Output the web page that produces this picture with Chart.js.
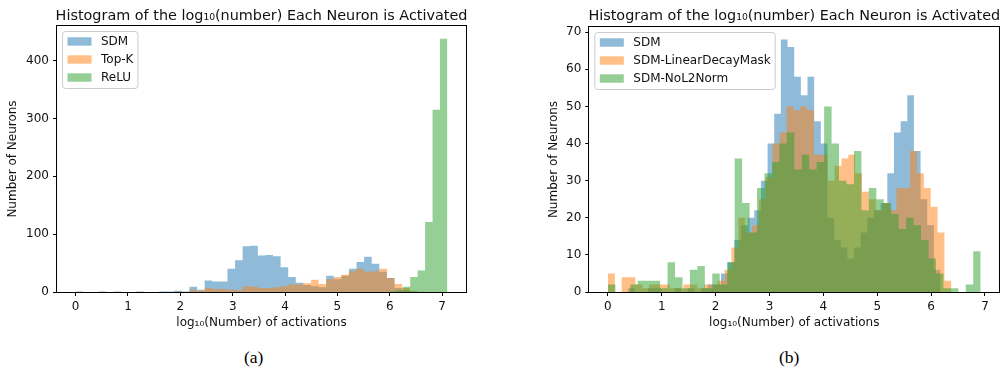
<!DOCTYPE html>
<html>
<head>
<meta charset="utf-8">
<script src="https://cdn.jsdelivr.net/npm/chart.js@4.4.1/dist/chart.umd.min.js"></script>
<style>
  body { margin: 0; background: #fff; width: 1006px; height: 374px; position: relative; overflow: hidden; }
  canvas { position: absolute; top: 0; }
  .cap { position: absolute; top: 347px; line-height: 20px; font-family: "Liberation Serif", serif; font-size: 17.5px; color: #000; }
</style>
</head>
<body>
<canvas id="histA" width="490" height="334" style="left:0"></canvas>
<canvas id="histB" width="476" height="334" style="left:530px"></canvas>
<div class="cap" style="left:244px">(a)</div>
<div class="cap" style="left:779px">(b)</div>
<script>
const xTicks = [0, 1, 2, 3, 4, 5, 6, 7];
const yTicksA = [0, 100, 200, 300, 400];
const yTicksB = [0, 10, 20, 30, 40, 50, 60, 70];

const labelsA = ['SDM', 'Top-K', 'ReLU'];
const labelsB = ['SDM', 'SDM-LinearDecayMask', 'SDM-NoL2Norm'];

// every histogram starts its bins at log10 = 0; width in log10 units
const binWidthA = [0.145, 0.145, 0.142];
const binWidthB = [0.1235, 0.1275, 0.1384];

// neuron counts per bin
const sdmA = [1, 0, 0, 1, 0, 1, 0, 0, 1, 0,
              0, 1, 1, 2, 1, 9, 4, 20, 18, 18,
              40, 55, 79, 80, 63, 64, 62, 43, 26, 16,
              12, 10, 8, 28, 22, 28, 40, 52, 61, 49,
              35, 24, 7, 3, 1];
const topkA = [0, 0, 0, 0, 0, 0, 0, 0, 0, 0,
               0, 0, 0, 1, 0, 4, 2, 7, 5, 5,
               4, 3, 10, 9, 7, 7, 8, 10, 13, 13,
               15, 21, 14, 22, 26, 30, 36, 40, 35, 36,
               40, 24, 14, 7, 2, 1];
const reluA = [0, 0, 0, 0, 0, 0, 0, 0, 0, 0,
               0, 0, 0, 0, 0, 0, 0, 0, 0, 0,
               0, 0, 0, 0, 0, 0, 0, 0, 0, 0,
               0, 0, 0, 0, 0, 0, 0, 0, 0, 0,
               0, 0, 1, 3, 9, 26, 37, 121, 315, 438];

const sdmB = [0, 0, 0, 1, 0, 0, 1, 1, 0, 0,
              1, 0, 1, 0, 1, 2, 2, 5, 8, 14,
              18, 20, 22, 30, 40, 48, 68, 66, 58, 53,
              58, 46, 40, 20, 14, 12, 9, 12, 16, 20,
              22, 24, 32, 43, 46, 53, 38, 25, 18, 6];
const decayB = [5, 0, 4, 4, 2, 1, 2, 2, 2, 1,
                1, 2, 2, 1, 2, 2, 3, 6, 12, 20,
                16, 18, 25, 31, 40, 43, 50, 49, 50, 49,
                37, 37, 30, 34, 36, 37, 32, 27, 25, 22,
                24, 22, 28, 28, 38, 32, 28, 23, 16, 3];
const nol2B = [2, 0, 0, 2, 3, 3, 3, 1, 8, 4,
               1, 6, 7, 1, 5, 2, 8, 36, 24, 16,
               28, 32, 35, 40, 43, 33, 37, 33, 35, 50,
               40, 30, 29, 38, 22, 28, 25, 24, 21, 17,
               20, 18, 14, 9, 5, 1, 1, 0, 2, 11];

const colors = ['rgba(31,119,180,0.5)', 'rgba(255,127,14,0.5)', 'rgba(44,160,44,0.5)'];
const font = { family: 'DejaVu Sans', size: 12 };
const ink = '#111';

// bin edges -> points of a step outline (value holds until the next edge)
function steps(counts, width) {
  const pts = counts.map((c, i) => ({ x: i * width, y: c }));
  pts.push({ x: counts.length * width, y: 0 });
  return pts;
}

// axes box, in-axes legend and title
const histFrame = {
  id: 'histFrame',
  afterDatasetsDraw(chart, args, opts) {
    const { ctx, chartArea: a } = chart;
    ctx.save();

    // legend, upper left
    ctx.font = `${font.size}px ${font.family}`;
    const sets = chart.data.datasets;
    const textW = Math.max(...sets.map(d => ctx.measureText(d.label).width));
    const bx = a.left + 5.5, by = a.top + 5.5;
    const bw = 43 + textW, bh = 57;
    ctx.beginPath();
    ctx.roundRect(bx, by, bw, bh, 3);
    ctx.fillStyle = 'rgba(255,255,255,0.8)';
    ctx.fill();
    ctx.strokeStyle = '#cccccc';
    ctx.lineWidth = 1;
    ctx.stroke();
    sets.forEach((d, i) => {
      const cy = by + 10 + i * 18;
      ctx.fillStyle = d.backgroundColor;
      ctx.fillRect(bx + 5, cy - 4.2, 24, 8.4);
      ctx.fillStyle = ink;
      ctx.textBaseline = 'middle';
      ctx.textAlign = 'left';
      ctx.fillText(d.label, bx + 38.5, cy + 0.5);
    });

    // spines
    ctx.strokeStyle = '#000';
    ctx.lineWidth = 1;
    ctx.strokeRect(Math.round(a.left) - 0.5, Math.round(a.top) - 0.5,
                   Math.round(a.right - a.left) + 1, Math.round(a.bottom - a.top) + 1);

    ctx.font = `14.4px ${font.family}`;
    ctx.fillStyle = ink;
    ctx.textAlign = 'center';
    ctx.textBaseline = 'alphabetic';
    ctx.fillText(opts.title, (a.left + a.right) / 2, 19.5);
    ctx.restore();
  }
};

function makeHist(id, series, widths, labels, cfg) {
  return new Chart(document.getElementById(id), {
    type: 'line',
    data: {
      datasets: series.map((counts, i) => ({
        label: labels[i],
        data: steps(counts, widths[i]),
        stepped: true,
        fill: 'origin',
        backgroundColor: colors[i],
        borderWidth: 0,
        pointRadius: 0,
        order: 3 - i
      }))
    },
    options: {
      responsive: false,
      animation: false,
      events: [],
      layout: { padding: { top: cfg.top, right: cfg.padRight, bottom: 0, left: 0 } },
      plugins: {
        legend: { display: false },
        tooltip: { enabled: false },
        histFrame: { title: 'Histogram of the log\u2081\u2080(number) Each Neuron is Activated' }
      },
      scales: {
        x: {
          type: 'linear',
          min: cfg.xMin,
          max: cfg.xMax,
          afterBuildTicks: s => { s.ticks = xTicks.map(v => ({ value: v })); },
          afterFit: s => { s.height = 334 - cfg.bottom; },
          border: { display: false },
          grid: { drawOnChartArea: false, tickLength: 4, color: '#000', lineWidth: 1 },
          ticks: { color: ink, font: font, padding: 3.5, maxRotation: 0, autoSkip: false },
          title: { display: true, text: 'log\u2081\u2080(Number) of activations', color: ink, font: font, padding: { top: 0, bottom: 4 } }
        },
        y: {
          type: 'linear',
          min: 0,
          max: cfg.yMax,
          afterBuildTicks: s => { s.ticks = cfg.yTicks.map(v => ({ value: v })); },
          afterFit: s => { s.width = cfg.axisLeft; },
          border: { display: false },
          grid: { drawOnChartArea: false, tickLength: 4, color: '#000', lineWidth: 1 },
          ticks: { color: ink, font: font, padding: 4, autoSkip: false },
          title: { display: true, text: 'Number of Neurons', color: ink, font: font, padding: { top: cfg.yTitlePad, bottom: 0 } }
        }
      }
    },
    plugins: [histFrame]
  });
}

makeHist('histA', [sdmA, topkA, reluA], binWidthA, labelsA, {
  xMin: -0.355, xMax: 7.455, yMax: 460, yTicks: yTicksA,
  axisLeft: 57, padRight: 24, top: 26, bottom: 292, yTitlePad: 5.3
});
makeHist('histB', [sdmB, decayB, nol2B], binWidthB, labelsB, {
  xMin: -0.346, xMax: 7.266, yMax: 71.4, yTicks: yTicksB,
  axisLeft: 59.3, padRight: 6.7, top: 27, bottom: 292, yTitlePad: 16.8
});
</script>
</body>
</html>
